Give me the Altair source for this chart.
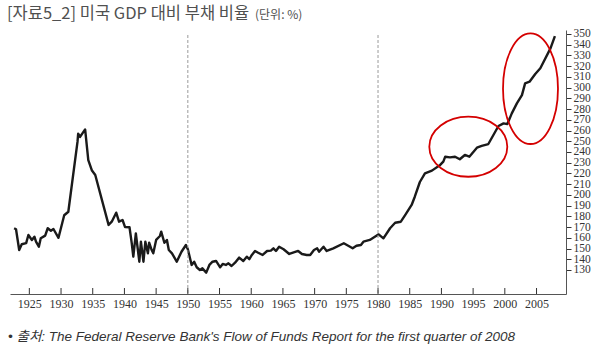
import altair as alt
import pandas as pd

years = [1922.6, 1922.9, 1923.4, 1923.8, 1924.5, 1924.85, 1925.4, 1925.8, 1926.05, 1926.5,
         1926.8, 1927.5, 1927.9, 1928.4, 1928.8, 1929.6, 1930.5, 1931.15, 1932.6, 1932.7,
         1933.0, 1933.8, 1934.3, 1934.85, 1935.4, 1937.5, 1938.0, 1938.7, 1939.15, 1939.7,
         1940.1, 1940.8, 1941.15, 1941.4, 1941.8, 1942.35, 1942.6, 1943.0, 1943.3, 1943.7,
         1943.9, 1944.3, 1944.55, 1945.0, 1945.6, 1945.8, 1946.3, 1946.7, 1947.0, 1947.5,
         1948.25, 1949.0, 1949.7, 1950.0, 1950.6, 1951.0, 1951.4, 1951.9, 1952.3, 1952.9,
         1953.4, 1953.9, 1954.45, 1955.1, 1955.5, 1956.0, 1956.4, 1956.9, 1957.45, 1958.1,
         1958.75, 1959.3, 1959.7, 1960.1, 1960.6, 1961.1, 1961.8, 1962.5, 1963.1, 1963.5,
         1963.9, 1964.4, 1965.1, 1966.0, 1967.4, 1968.0, 1968.75, 1969.3, 1969.9, 1970.4,
         1970.7, 1971.4, 1971.9, 1972.95, 1974.6, 1975.3, 1976.0, 1976.6, 1977.3, 1977.7,
         1978.7, 1979.5, 1980.1, 1980.85, 1981.9, 1982.7, 1983.6, 1984.3, 1985.3, 1985.8,
         1986.6, 1987.4, 1988.5, 1989.8, 1990.3, 1990.6, 1991.35, 1992.15, 1992.9, 1993.7,
         1994.4, 1995.6, 1996.35, 1997.4, 1998.2, 1999.0, 1999.8, 2000.4, 2001.1, 2001.9,
         2002.7, 2003.2, 2003.9, 2004.8, 2005.6, 2007.2, 2007.9]
ratios = [168.9, 168.0, 148.6, 154.0, 155.0, 162.6, 158.0, 161.0, 156.4, 151.7,
          159.5, 162.0, 168.9, 166.6, 168.2, 160.0, 181.0, 184.3, 249.6, 257.0,
          254.0, 261.0, 232.5, 223.0, 218.5, 172.0, 175.0, 183.4, 175.0, 176.6,
          170.0, 169.8, 155.0, 142.4, 164.0, 137.7, 156.4, 137.7, 156.4, 145.5,
          155.5, 148.6, 145.5, 158.0, 161.7, 165.7, 155.4, 158.0, 148.6, 145.5,
          137.7, 147.0, 153.3, 149.3, 134.7, 137.7, 132.5, 130.0, 131.5, 127.5,
          134.7, 137.7, 138.4, 132.5, 135.6, 134.7, 136.2, 133.7, 136.8, 141.5,
          138.4, 142.4, 140.0, 144.0, 147.7, 146.1, 144.0, 147.7, 148.0, 150.2,
          147.7, 151.7, 149.3, 144.9, 147.7, 144.9, 144.0, 144.0, 148.6, 150.2,
          147.0, 151.7, 147.7, 150.2, 154.9, 152.6, 150.2, 152.6, 153.3, 156.4,
          158.0, 161.0, 163.2, 159.5, 168.9, 174.0, 175.0, 181.3, 190.6, 198.3,
          212.0, 220.0, 222.6, 227.9, 231.0, 235.6, 235.0, 235.6, 233.2, 237.2,
          235.6, 244.0, 245.6, 247.4, 255.8, 264.2, 266.7, 266.0, 276.0, 285.3,
          293.0, 304.0, 305.5, 312.7, 318.0, 336.6, 348.0]

x_ticks = list(range(1925, 2010, 5))
y_ticks = list(range(130, 360, 10))
ref_years = [1950, 1980]

# annotation ellipses: centre year, centre value
ell_years = [1994.24, 2004.05]
ell_values = [244.9, 299.0]

title_main = "[자료5_2] 미국 GDP 대비 부채 비율"
title_unit = "(단위: %)"
source_text = "• 출처: The Federal Reserve Bank's Flow of Funds Report for the first quarter of 2008"

W, H = 556, 264
x_dom = [1921.95, 2009.65]
y_dom = [107.6, 353.7]

xs = alt.Scale(domain=x_dom, nice=False, zero=False)
ys = alt.Scale(domain=y_dom, nice=False, zero=False)

num_font = "Liberation Sans Narrow"

x_axis = alt.Axis(values=x_ticks, format="d", title=None, grid=False, ticks=False,
                  labelFontSize=12, labelFont=num_font, labelColor="#333",
                  labelPadding=4, domain=True, domainColor="#555", domainWidth=1,
                  labelOverlap=False, labelFlush=False)
y_axis = alt.Axis(orient="right", values=y_ticks, title=None, grid=False,
                  tickSize=5, tickColor="#333", labelFontSize=11.5, labelFont=num_font,
                  labelColor="#333", labelPadding=2, domain=True, domainColor="#555",
                  domainWidth=1, labelBaseline="middle", labelFlush=False, labelOverlap=False)

X = lambda: alt.X("year:Q", scale=xs, axis=x_axis)
Y = lambda: alt.Y("ratio:Q", scale=ys, axis=y_axis)

df = pd.DataFrame({"year": years, "ratio": ratios})
line = alt.Chart(df).mark_line(color="#1a1a1a", strokeWidth=2.4, strokeJoin="round").encode(
    x=X(), y=Y()
)

refs = alt.Chart(pd.DataFrame({"year": ref_years})).mark_rule(
    color="#9a9a9a", strokeDash=[3, 2], strokeWidth=1
).encode(x=X(), y=alt.value(5), y2=alt.value(H))

xticks = alt.Chart(pd.DataFrame({"year": x_ticks})).mark_rule(color="#333", strokeWidth=1).encode(
    x=X(), y=alt.value(H - 6), y2=alt.value(H)
)

e1 = alt.Chart(pd.DataFrame({"year": [ell_years[0]], "ratio": [ell_values[0]]})).mark_point(
    shape="M-1,0A1,0.77,0,1,1,1,0A1,0.77,0,1,1,-1,0Z", size=78 * 78, filled=False,
    color="#d40000", strokeWidth=1.8, opacity=1
).encode(x=X(), y=Y())

e2 = alt.Chart(pd.DataFrame({"year": [ell_years[1]], "ratio": [ell_values[1]]})).mark_point(
    shape="M0,-1A0.497,1,0,1,1,0,1A0.497,1,0,1,1,0,-1Z", size=110.6 * 110.6, filled=False,
    color="#d40000", strokeWidth=1.8, opacity=1
).encode(x=X(), y=Y())

t1 = alt.Chart(pd.DataFrame({"t": [title_main]})).mark_text(
    align="left", baseline="middle", fontSize=16.5, font="Noto Sans CJK KR", color="#505050"
).encode(x=alt.value(-3), y=alt.value(-16), text="t:N")

t2 = alt.Chart(pd.DataFrame({"t": [title_unit]})).mark_text(
    align="left", baseline="middle", fontSize=12, font="Noto Sans CJK KR", color="#505050"
).encode(x=alt.value(245), y=alt.value(-15), text="t:N")

src = alt.Chart(pd.DataFrame({"t": [source_text]})).mark_text(
    align="left", baseline="middle", fontSize=13.5, font="Liberation Sans, Noto Sans CJK KR",
    fontStyle="italic", color="#333"
).encode(x=alt.value(-2), y=alt.value(307), text="t:N")

chart = alt.layer(line, refs, xticks, e1, e2, t1, t2, src).properties(
    width=W, height=H,
    autosize=alt.AutoSizeParams(type="none"),
    padding={"left": 10, "top": 30, "right": 34, "bottom": 57},
    background="white",
).configure_view(stroke=None)

chart.save("out.html", embed_options={"renderer": "svg", "actions": False})
